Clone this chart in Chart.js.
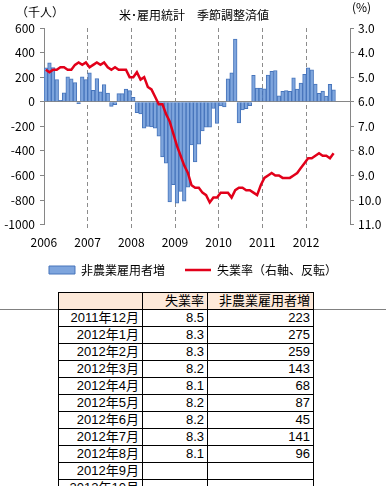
<!DOCTYPE html>
<html><head><meta charset="utf-8">
<script src="https://cdn.jsdelivr.net/npm/chart.js@4"></script>
<style>
html,body{margin:0;padding:0;background:#fff;overflow:hidden;width:386px;height:486px;}
#wrap{position:absolute;left:0;top:0;width:386px;height:290px;}
#hline{position:absolute;left:0;top:309px;width:386px;height:1px;background:#808080;}
table{position:absolute;left:58px;top:292px;border-collapse:collapse;table-layout:fixed;font-family:"Liberation Sans","Noto Sans CJK JP",sans-serif;font-size:13px;color:#000;background:#fff;}
td{border:1px solid #000;height:16px;padding:0 3px 0 0;text-align:right;line-height:16px;white-space:nowrap;overflow:hidden;}
tr.head td{background:#fde9d9;}
</style></head>
<body>
<div id="wrap"><canvas id="c" width="386" height="290"></canvas></div>
<div id="hline"></div>
<table id="tbl"><colgroup><col style="width:84px"><col style="width:65px"><col style="width:106px"></colgroup><tbody id="tb"></tbody></table>
<script>
const years = ['2006','2007','2008','2009','2010','2011','2012'];
const seriesNames = ['非農業雇用者増','失業率（右軸、反転）'];
// Monthly nonfarm payroll change (thousands), Jan 2006 - Aug 2012
const payrolls = [
  275, 316, 278, 181, 11, 73, 203, 187, 156, -16, 203, 181,
  235, 92, 189, 80, 140, 70, -38, -24, 66, 66, 103, 90,
  35, -90, -100, -215, -200, -205, -215, -280, -450, -500, -815, -675,
  -825, -730, -810, -695, -352, -490, -345, -238, -207, -207, -55, -177,
  -35, -42, 186, 236, 510, -172, -66, -56, -32, 214, 111, 111,
  105, 216, 248, 254, 48, 84, 90, 84, 194, 103, 152, 223,
  275, 259, 143, 68, 87, 45, 141, 96
];
// Unemployment rate (%), Jan 2006 - Aug 2012
const unemployment = [
  4.7, 4.8, 4.7, 4.7, 4.6, 4.6, 4.7, 4.7, 4.5, 4.4, 4.5, 4.4,
  4.6, 4.5, 4.4, 4.5, 4.4, 4.6, 4.7, 4.6, 4.7, 4.7, 4.7, 5.0,
  5.0, 4.8, 5.1, 5.0, 5.4, 5.5, 5.8, 6.1, 6.1, 6.5, 6.8, 7.3,
  7.8, 8.2, 8.6, 8.9, 9.4, 9.5, 9.5, 9.7, 9.8, 10.1, 9.9, 9.9,
  9.7, 9.7, 9.7, 9.9, 9.6, 9.5, 9.5, 9.6, 9.6, 9.7, 9.8, 9.4,
  9.1, 9.0, 8.9, 9.0, 9.0, 9.1, 9.1, 9.1, 9.0, 8.9, 8.7, 8.5,
  8.3, 8.3, 8.2, 8.1, 8.2, 8.2, 8.3, 8.1
];
const tableHeader = ['', '失業率', '非農業雇用者増'];
const tableMonths = ['2011年12月','2012年1月','2012年2月','2012年3月','2012年4月','2012年5月','2012年6月','2012年7月','2012年8月','2012年9月','2012年10月','2012年11月'];
const tableStartIndex = 71; // Dec 2011

const categories = [];
years.forEach(y => { for (let m = 1; m <= 12; m++) categories.push(y + '/' + m); });

// Table
const tb = document.getElementById('tb');
let html = '<tr class="head">' + tableHeader.map(h => '<td>' + h + '</td>').join('') + '</tr>';
tableMonths.forEach((m, i) => {
  const idx = tableStartIndex + i;
  const r = idx < unemployment.length ? unemployment[idx].toFixed(1) : '';
  const p = idx < payrolls.length ? String(payrolls[idx]) : '';
  html += '<tr><td>' + m + '</td><td>' + r + '</td><td>' + p + '</td></tr>';
});
tb.innerHTML = html;

Chart.defaults.font.family = '"Noto Sans CJK JP","Noto Sans",sans-serif';
Chart.defaults.font.size = 12;
Chart.defaults.color = '#000';

const AX = '#868686';
const textPlugin = {
  id: 'texts',
  afterDraw(chart) {
    const c = chart.ctx;
    c.save();
    c.fillStyle = '#000';
    c.font = '12px "Noto Sans CJK JP"';
    c.textBaseline = 'middle';
    c.textAlign = 'left';
    c.fillText('（千人）', 16, 12);
    c.textAlign = 'center';
    c.fillText('米･雇用統計　季節調整済値', 194, 15);
    c.textAlign = 'left';
    c.fillText('(%)', 352, 7);
    c.restore();
  }
};

const yearGrid = ctx => (ctx.index % 12 === 0 && ctx.index > 0) ? '#8c8c8c' : 'rgba(0,0,0,0)';

new Chart(document.getElementById('c'), {
  type: 'bar',
  data: {
    labels: categories,
    datasets: [
      { type: 'bar', label: seriesNames[0], data: payrolls, yAxisID: 'y',
        backgroundColor: '#7ea5dd', borderColor: '#4674bb', borderWidth: 1,
        barPercentage: 1, categoryPercentage: 1, order: 1 },
      { type: 'line', label: seriesNames[1], data: unemployment, yAxisID: 'y1',
        borderColor: '#e2001a', backgroundColor: '#e2001a', borderWidth: 2.5,
        pointRadius: 0, pointBorderWidth: 2.5, pointBorderColor: '#e2001a',
        tension: 0, fill: false, order: 0 }
    ]
  },
  options: {
    responsive: false, animation: false,
    layout: { padding: { top: 28, bottom: 4, left: 0, right: 0 } },
    plugins: {
      tooltip: { enabled: false },
      legend: {
        position: 'bottom',
        labels: {
          usePointStyle: true, pointStyleWidth: 26, boxHeight: 8, padding: 8,
          color: '#000', font: { size: 12 },
          sort: (a, b) => a.datasetIndex - b.datasetIndex,
          generateLabels: chart => {
            const items = Chart.defaults.plugins.legend.labels.generateLabels(chart);
            items.forEach(it => {
              if (it.datasetIndex === 0) {
                it.pointStyle = 'rect'; it.lineWidth = 1; it.fillStyle = '#7ea5dd'; it.strokeStyle = '#4674bb';
                it.text = it.text + '　';
              } else {
                it.pointStyle = 'line'; it.lineWidth = 2.5; it.strokeStyle = '#e2001a'; it.fillStyle = '#e2001a';
              }
            });
            return items;
          }
        }
      }
    },
    scales: {
      x: {
        offset: true,
        grid: { offset: true, color: yearGrid, tickColor: yearGrid, tickLength: 5, tickBorderDash: [3, 3] },
        border: { display: false, dash: [4, 3] },
        ticks: { autoSkip: false, maxRotation: 0, minRotation: 0, padding: 6, labelOffset: -2,
          callback: (v, i) => (i % 12 === 0 ? years[i / 12] : '') }
      },
      y: {
        position: 'left', min: -1000, max: 600,
        ticks: { stepSize: 200, padding: 5, callback: v => String(v) },
        grid: { color: c => (c.tick && c.tick.value === 0) ? AX : 'rgba(0,0,0,0)', tickColor: AX, tickLength: 4 },
        border: { color: AX },
        afterFit: s => { s.width = 44; }
      },
      y1: {
        position: 'right', reverse: true, min: 3, max: 11,
        ticks: { stepSize: 1, padding: 4, callback: v => Number(v).toFixed(1) },
        grid: { drawOnChartArea: false, tickColor: AX, tickLength: 4 },
        border: { color: AX },
        afterFit: s => { s.width = 36; }
      }
    }
  },
  plugins: [textPlugin]
});
</script>
</body></html>
